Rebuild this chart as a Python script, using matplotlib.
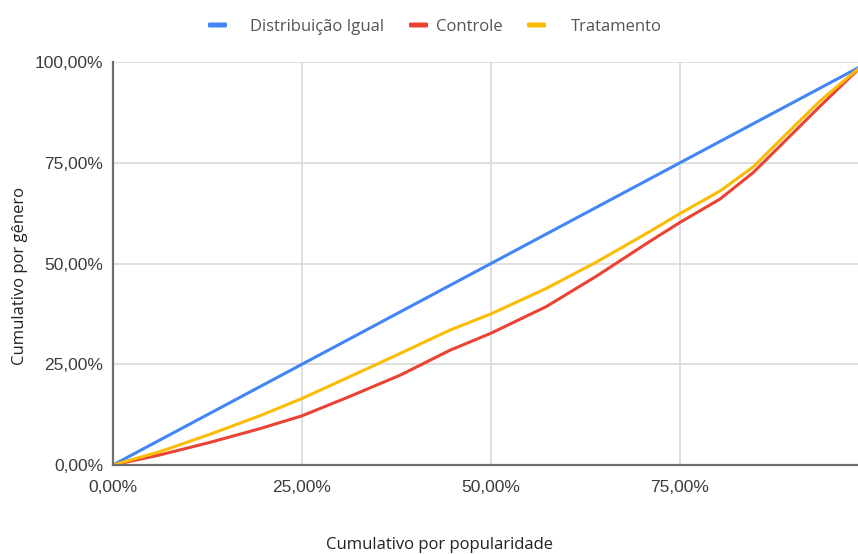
import matplotlib
matplotlib.use("Agg")
import matplotlib.pyplot as plt
from matplotlib.patches import FancyBboxPatch
from matplotlib.ticker import FuncFormatter, FixedLocator

# cumulative share of the population (x) and the cumulative share per series (y)
popularidade = [0.0, 0.062, 0.128, 0.194, 0.25, 0.313, 0.38, 0.446, 0.5, 0.573,
                0.639, 0.706, 0.75, 0.803, 0.847, 0.891, 0.935, 0.983, 1.0]
distribuicao_igual = [0.0, 0.062, 0.128, 0.194, 0.25, 0.313, 0.38, 0.446, 0.5, 0.573,
                      0.639, 0.706, 0.75, 0.803, 0.847, 0.891, 0.935, 0.983, 1.0]
controle = [0.0, 0.025, 0.056, 0.090, 0.122, 0.170, 0.223, 0.285, 0.327, 0.393,
            0.468, 0.550, 0.602, 0.660, 0.726, 0.808, 0.890, 0.977, 1.0]
tratamento = [0.0, 0.033, 0.076, 0.122, 0.165, 0.219, 0.277, 0.335, 0.375, 0.438,
              0.503, 0.575, 0.624, 0.680, 0.740, 0.822, 0.903, 0.979, 1.0]

series_names = ["Distribuição Igual", "Controle", "Tratamento"]
colors = ["#4285F4", "#EA4335", "#FBBC04"]
x_ticks = [0.0, 0.25, 0.5, 0.75]
y_ticks = [0.0, 0.25, 0.5, 0.75, 1.0]

W, H = 858, 554
fig = plt.figure(figsize=(W / 100, H / 100), dpi=100)
ax = fig.add_axes([113 / W, (H - 465) / H, (W - 113) / W, 403 / H])

for ys, c in zip([distribuicao_igual, controle, tratamento], colors):
    ax.plot(popularidade, ys, color=c, lw=2.2, solid_capstyle="round",
            solid_joinstyle="round", zorder=3)

ax.set_xlim(0, 0.9854)
ax.set_ylim(0, 1.0)

def pct(v, pos):
    return f"{v * 100:.2f}%".replace(".", ",")

ax.xaxis.set_major_locator(FixedLocator(x_ticks))
ax.yaxis.set_major_locator(FixedLocator(y_ticks))
ax.xaxis.set_major_formatter(FuncFormatter(pct))
ax.yaxis.set_major_formatter(FuncFormatter(pct))

for lab in ax.get_xticklabels() + ax.get_yticklabels():
    lab.set_fontfamily("Liberation Sans")
    lab.set_fontsize(12.5)
    lab.set_color("#3c3c3c")
ax.tick_params(axis="both", length=0)
ax.tick_params(axis="x", pad=11)
ax.tick_params(axis="y", pad=7)

ax.grid(True, color="#d9d9d9", lw=1.2, zorder=0)
ax.set_axisbelow(True)
for s in ["top", "right"]:
    ax.spines[s].set_visible(False)
for s in ["left", "bottom"]:
    ax.spines[s].set_color("#6e6e6e")
    ax.spines[s].set_linewidth(1.6)
    ax.spines[s].set_zorder(4)

label_font = "Open Sans"
fig.text(440 / W, 1 - 545 / H, "Cumulativo por popularidade", ha="center", va="center",
         fontsize=12, family=label_font, color="#222222")
fig.text(20 / W, 1 - 276 / H, "Cumulativo por gênero", ha="center", va="center",
         rotation=90, fontsize=12, family=label_font, color="#222222")

# legend at the top, placed like the original
leg_y = 1 - 25 / H
marker_x = [208, 409, 527]
text_x = [250, 436, 571]
for name, c, mx, tx in zip(series_names, colors, marker_x, text_x):
    fig.patches.append(FancyBboxPatch((mx / W, leg_y - 2.5 / H), 19 / W, 5 / H,
                                      boxstyle="round,pad=0,rounding_size=0.002",
                                      transform=fig.transFigure, color=c, lw=0))
    fig.text(tx / W, leg_y - 2 / H, name, ha="left", va="center", fontsize=12,
             family=label_font, color="#555555")

fig.savefig("out.png", dpi=100)
